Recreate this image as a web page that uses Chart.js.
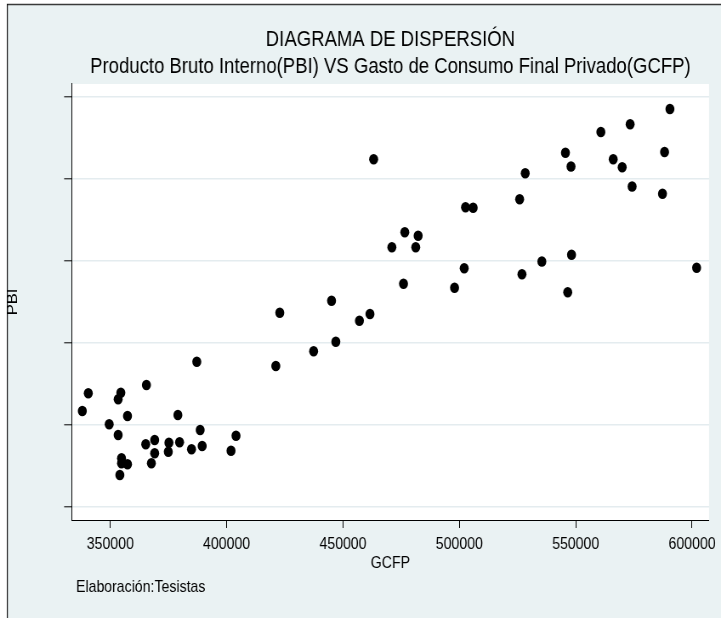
<!DOCTYPE html>
<html>
<head>
<meta charset="utf-8">
<script src="https://cdn.jsdelivr.net/npm/chart.js@4.4.0/dist/chart.umd.min.js"></script>
<style>
html, body { margin: 0; padding: 0; background: #fff; overflow: hidden; }
#chart { display: block; }
</style>
</head>
<body>
<canvas id="chart" width="848" height="618" style="width:721px;height:618px"></canvas>
<script>
// GCFP (x) and PBI (y)
const gcfp = [
  337980, 340550, 349530, 353380, 353380, 354530, 357400, 354830, 354830, 357400,
  354110, 365530, 365230, 369080, 369080, 367660, 375190, 374930, 379040, 379770,
  384900, 388620, 389480, 387170, 401880, 404020,
  463170, 502650, 505940, 476560, 482290, 471000, 481260, 502090, 476000, 497940,
  445080, 422840, 461590, 457060, 446920, 437380, 421130,
  590490, 573390, 560810, 545590, 588190, 566120, 569970, 547980, 528310, 574240,
  525910, 587290, 548200, 535450, 526900, 546570, 601960
];
const pbi = [
  616700, 638290, 600490, 587440, 630970, 639020, 610610, 559020, 552930, 551710,
  538660, 648410, 576100, 581340, 565120, 552930, 578050, 567070, 611830, 578540,
  570000, 593540, 574020, 676830, 568290, 586580,
  923650, 865120, 864630, 834630, 830480, 816340, 816340, 790730, 771950, 767070,
  751220, 736580, 735000, 726830, 701220, 689510, 671580,
  984990, 966340, 956950, 931700, 932560, 923780, 914020, 914870, 906580, 890480,
  874870, 881580, 807190, 799020, 783420, 761580, 791340
];
const xTicks = [350000, 400000, 450000, 500000, 550000, 600000];
const yTicks = [500000, 600000, 700000, 800000, 900000, 1000000];
const titleLines = ['DIAGRAMA DE DISPERSIÓN', 'Producto Bruto Interno(PBI) VS Gasto de Consumo Final Privado(GCFP)'];
const xTitle = 'GCFP';
const yTitle = 'PBI';
const note = 'Elaboración:Tesistas';

// the original export is squeezed sideways, so the canvas is drawn 848 wide and shown at 721
const family = '"Liberation Sans", Arial, sans-serif';
const txt = 16.6;

const frame = {
  id: 'frame',
  beforeDraw(chart) {
    const ctx = chart.ctx;
    const a = chart.chartArea;
    ctx.save();
    ctx.fillStyle = '#fff';
    ctx.fillRect(0, 0, chart.width, chart.height);
    ctx.fillStyle = '#eaf2f3';
    ctx.fillRect(8.6, 4.5, chart.width, chart.height);
    ctx.fillStyle = '#fff';
    ctx.fillRect(a.left, a.top, a.right - a.left, a.bottom - a.top);
    ctx.strokeStyle = '#3a3a3a';
    ctx.lineWidth = 1.5;
    ctx.beginPath();
    ctx.moveTo(8, 4.5);
    ctx.lineTo(chart.width, 4.5);
    ctx.stroke();
    ctx.strokeStyle = '#111';
    ctx.lineWidth = 1.2;
    ctx.beginPath();
    ctx.moveTo(8.6, 4);
    ctx.lineTo(8.6, chart.height);
    ctx.stroke();
    ctx.restore();
  },
  afterDraw(chart) {
    const ctx = chart.ctx;
    ctx.save();
    ctx.fillStyle = '#000';
    ctx.font = `${txt}px ${family}`;
    ctx.textBaseline = 'middle';
    ctx.fillText(note, 89.4, 587);
    ctx.restore();
  }
};

new Chart(document.getElementById('chart'), {
  type: 'scatter',
  data: {
    datasets: [{
      data: gcfp.map((x, i) => ({ x: x, y: pbi[i] })),
      backgroundColor: '#000',
      borderWidth: 0,
      pointRadius: 5.3,
      pointHoverRadius: 5.3
    }]
  },
  options: {
    responsive: false,
    animation: false,
    layout: { padding: { left: 5, right: 10.4, top: 0, bottom: 45 } },
    plugins: {
      legend: { display: false },
      tooltip: { enabled: false },
      title: {
        display: true,
        text: titleLines,
        fullSize: false,
        color: '#000',
        font: { family: family, size: 21.8, weight: 'normal', lineHeight: 1.24 },
        padding: { top: 26.6, bottom: 3.3 }
      }
    },
    scales: {
      x: {
        type: 'linear',
        min: 333450,
        max: 607300,
        afterBuildTicks: s => { s.ticks = xTicks.map(v => ({ value: v })); },
        afterFit: s => { s.height = 53; },
        ticks: {
          color: '#000',
          font: { family: family, size: txt },
          padding: 6,
          maxRotation: 0,
          autoSkip: false,
          callback: v => String(v)
        },
        grid: { drawOnChartArea: false, drawTicks: true, tickLength: 8, tickColor: '#000', tickWidth: 1 },
        border: { display: true, color: '#000', width: 1 },
        title: { display: true, text: xTitle, color: '#000', font: { family: family, size: txt }, padding: 0 }
      },
      y: {
        min: 483800,
        max: 1015500,
        afterBuildTicks: s => { s.ticks = yTicks.map(v => ({ value: v })); },
        afterFit: s => { s.width = 79.4; },
        ticks: { display: false },
        grid: { color: '#e4ecef', lineWidth: 1.6, drawTicks: true, tickLength: 9, tickColor: '#000', tickWidth: 1 },
        border: { display: true, color: '#000', width: 1 },
        title: { display: true, text: yTitle, color: '#000', font: { family: family, size: txt }, padding: 0 }
      }
    }
  },
  plugins: [frame]
});
</script>
</body>
</html>
